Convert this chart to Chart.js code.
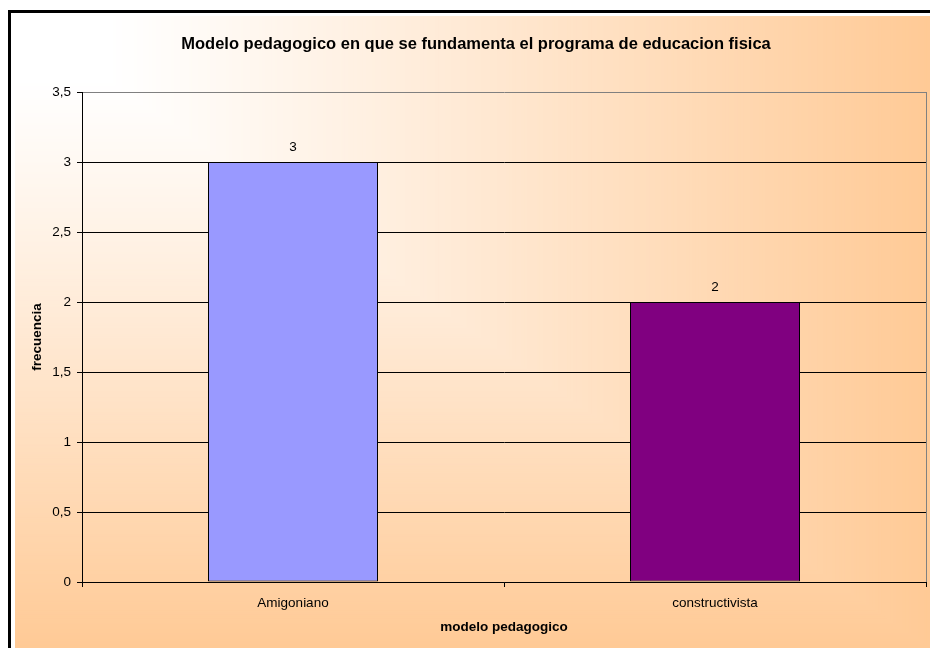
<!DOCTYPE html>
<html>
<head>
<meta charset="utf-8">
<script src="https://cdn.jsdelivr.net/npm/chart.js@4/dist/chart.umd.min.js"></script>
<style>
html,body{margin:0;padding:0;background:#fff;}
#wrap{width:930px;height:648px;position:relative;}
</style>
</head>
<body>
<div id="wrap"><canvas id="c" width="930" height="648"></canvas></div>
<script>
const categories = ["Amigoniano", "constructivista"];
const frecuencia = [3, 2];
const barColors = ["#9999FF", "#800080"];
const chartTitle = "Modelo pedagogico en que se fundamenta el programa de educacion fisica";
const xTitle = "modelo pedagogico";
const yTitle = "frecuencia";

const FONT = '"Liberation Sans", Arial, sans-serif';

const bgPlugin = {
  id: 'bg',
  beforeDraw(chart) {
    const ctx = chart.ctx;
    ctx.save();
    ctx.fillStyle = '#ffffff';
    ctx.fillRect(0, 0, 930, 648);
    const x0 = 15, y0 = 16, W = 915, H = 632, N = 300;
    for (let i = N; i >= 0; i--) {
      const t = i / N;
      const k = Math.pow(Math.max(0, (t - 0.1) / 0.9), 1.1);
      const r = 255, g = Math.round(255 - 53 * k), b = Math.round(255 - 105 * k);
      ctx.fillStyle = `rgb(${r},${g},${b})`;
      ctx.fillRect(x0, y0, Math.max(W * t, 1), Math.max(H * t, 1));
    }
    ctx.fillStyle = '#000';
    ctx.fillRect(8, 10, 922, 3);
    ctx.fillRect(8, 10, 3, 638);
    ctx.restore();
  },
  afterDraw(chart) {
    const ctx = chart.ctx;
    const a = chart.chartArea;
    ctx.save();
    ctx.strokeStyle = '#808080';
    ctx.lineWidth = 1;
    ctx.beginPath();
    ctx.moveTo(Math.round(a.right) + 0.5, a.top);
    ctx.lineTo(Math.round(a.right) + 0.5, a.bottom);
    ctx.stroke();
    ctx.fillStyle = '#000';
    ctx.font = 'bold 16.5px ' + FONT;
    ctx.textAlign = 'center';
    ctx.textBaseline = 'middle';
    ctx.fillText(chartTitle, 476, 44);
    ctx.font = '13.5px ' + FONT;
    const meta = chart.getDatasetMeta(0);
    meta.data.forEach((bar, i) => {
      ctx.fillText(String(chart.data.datasets[0].data[i]), bar.x, bar.y - 15);
    });
    ctx.restore();
  }
};

new Chart(document.getElementById('c'), {
  type: 'bar',
  data: {
    labels: categories,
    datasets: [{
      data: frecuencia,
      backgroundColor: barColors,
      borderColor: '#000',
      borderWidth: 1,
      borderSkipped: false,
      inflateAmount: 0,
      categoryPercentage: 1,
      barPercentage: 170 / 422
    }]
  },
  options: {
    responsive: false,
    animation: false,
    devicePixelRatio: 1,
    layout: { padding: { left: 15, top: 92, right: 4, bottom: 0 } },
    plugins: {
      legend: { display: false },
      title: { display: false },
      tooltip: { enabled: false }
    },
    scales: {
      x: {
        afterFit(s) { s.height = 66; },
        grid: { drawOnChartArea: false, drawTicks: true, tickLength: 5, color: '#000', offset: true },
        border: { color: '#000', width: 1 },
        ticks: { color: '#000', font: { family: FONT, size: 13.5 }, padding: 8 },
        title: { display: true, text: xTitle, color: '#000', font: { family: FONT, size: 13.5, weight: 'bold' }, padding: { top: 0, bottom: 13 } }
      },
      y: {
        min: 0, max: 3.5,
        afterFit(s) { s.width = 67; },
        grid: {
          color: (c) => (c.tick && c.tick.value === 3.5) ? '#808080' : '#000',
          tickColor: '#000',
          tickLength: 5,
          drawTicks: true
        },
        border: { color: '#000', width: 1 },
        ticks: {
          stepSize: 0.5,
          color: '#000',
          font: { family: FONT, size: 13.5 },
          padding: 6,
          callback: (v) => String(v).replace('.', ',')
        },
        title: { display: true, text: yTitle, color: '#000', font: { family: FONT, size: 13.5, weight: 'bold' }, padding: { top: 14, bottom: 0 } }
      }
    }
  },
  plugins: [bgPlugin]
});
</script>
</body>
</html>
